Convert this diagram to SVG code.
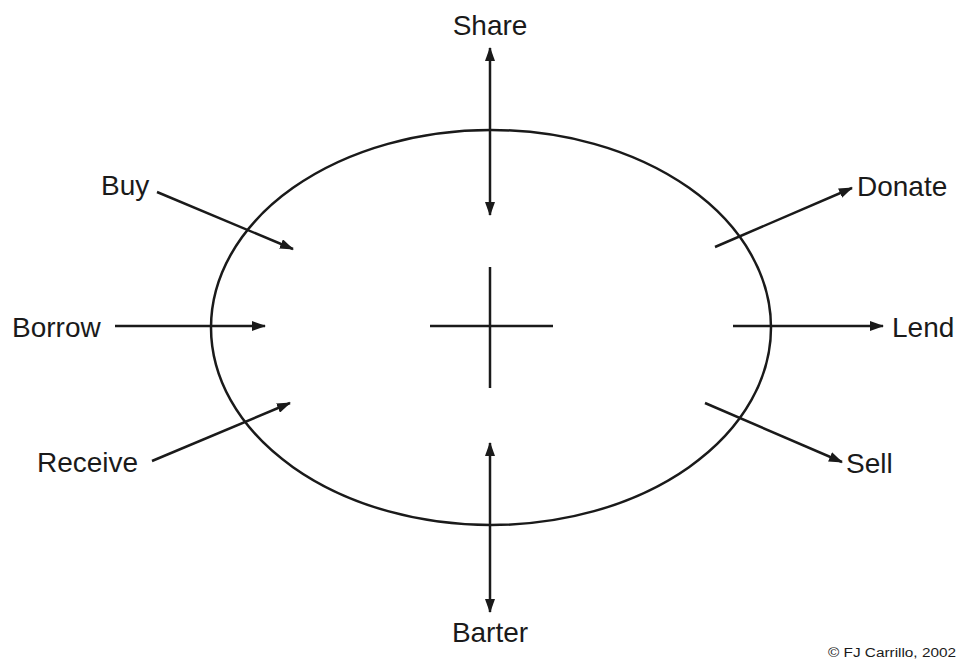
<svg xmlns="http://www.w3.org/2000/svg" width="966" height="661" viewBox="0 0 966 661">
<style>
.lbl{font-family:"Liberation Sans",Arial,sans-serif;font-size:28px;fill:#1a1a1a}
.ln{stroke:#1a1a1a;stroke-width:2.5;fill:none}
</style>
<defs>
<marker id="ah" viewBox="0 0 14 10" refX="13" refY="5" markerWidth="14" markerHeight="10" markerUnits="userSpaceOnUse" orient="auto-start-reverse">
<path d="M0,0 L14,5 L0,10 Z" fill="#1a1a1a"/>
</marker>
</defs>
<rect width="966" height="661" fill="#fff"/>
<g id="circle"><ellipse cx="491" cy="327.5" rx="280" ry="197.5" class="ln" stroke-width="2.2"/></g>
<g id="cross"><line x1="490" y1="267" x2="490" y2="388" class="ln"/><line x1="430" y1="326" x2="553" y2="326" class="ln"/></g>
<g id="connectors">
<line x1="490" y1="48" x2="490" y2="215" class="ln" marker-start="url(#ah)" marker-end="url(#ah)"/>
<line x1="490" y1="443" x2="490" y2="612" class="ln" marker-start="url(#ah)" marker-end="url(#ah)"/>
<line x1="157" y1="192" x2="293" y2="249" class="ln" marker-end="url(#ah)"/>
<line x1="115" y1="326" x2="265" y2="326" class="ln" marker-end="url(#ah)"/>
<line x1="152" y1="461" x2="290" y2="403" class="ln" marker-end="url(#ah)"/>
<line x1="715" y1="247" x2="852" y2="188" class="ln" marker-end="url(#ah)"/>
<line x1="733" y1="326" x2="883" y2="326" class="ln" marker-end="url(#ah)"/>
<line x1="705" y1="403" x2="842" y2="462" class="ln" marker-end="url(#ah)"/>
</g>
<g id="share"><text class="lbl" x="490" y="35" text-anchor="middle">Share</text></g>
<g id="barter"><text class="lbl" x="490" y="642" text-anchor="middle">Barter</text></g>
<g id="buy"><text class="lbl" x="101" y="195">Buy</text></g>
<g id="borrow"><text class="lbl" x="12" y="337">Borrow</text></g>
<g id="receive"><text class="lbl" x="37" y="472">Receive</text></g>
<g id="donate"><text class="lbl" x="857" y="196">Donate</text></g>
<g id="lend"><text class="lbl" x="892" y="337">Lend</text></g>
<g id="sell"><text class="lbl" x="846" y="473">Sell</text></g>
<g id="copyright"><text x="828" y="657" font-family="'Liberation Sans',Arial,sans-serif" font-size="12" fill="#1a1a1a" textLength="128" lengthAdjust="spacingAndGlyphs">© FJ Carrillo, 2002</text></g>
</svg>
